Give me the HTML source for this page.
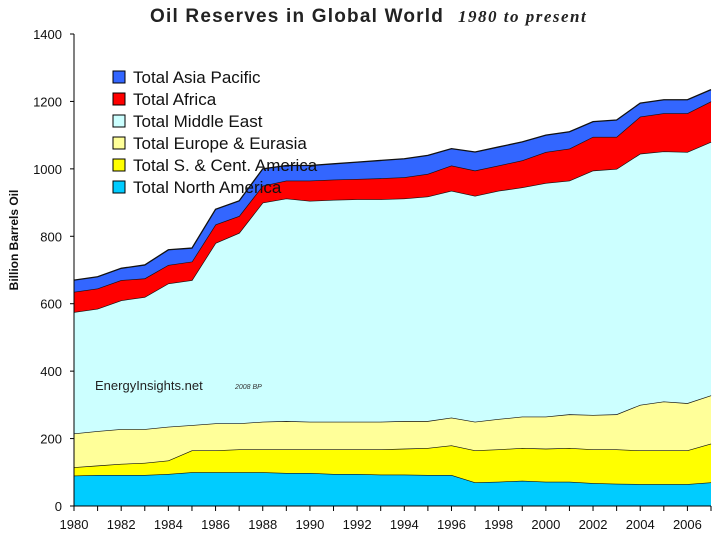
<!DOCTYPE html>
<html><head><meta charset="utf-8"><style>
body{margin:0;background:#fff;}
svg{display:block;font-family:"Liberation Sans",Arial,sans-serif;}
</style></head><body>
<svg id="chart" width="720" height="540" viewBox="0 0 720 540">
<text x="150" y="22" font-size="19" font-weight="bold" letter-spacing="1.2" fill="#222">Oil Reserves in Global World</text>
<text x="458" y="22" font-size="17" font-weight="bold" font-style="italic" letter-spacing="1.5" font-family="Liberation Serif,serif" fill="#222">1980 to present</text>
<text transform="translate(18,240) rotate(-90)" text-anchor="middle" font-size="12" font-weight="bold" fill="#111">Billion Barrels Oil</text>
<g id="plot"></g>
<g id="legend"></g>
<text x="95" y="390" font-size="13" fill="#222">EnergyInsights.net</text>
<text x="235" y="389" font-size="7" font-style="italic" fill="#333">2008 BP</text>
</svg>
<script>
const years=[1980,1981,1982,1983,1984,1985,1986,1987,1988,1989,1990,1991,1992,1993,1994,1995,1996,1997,1998,1999,2000,2001,2002,2003,2004,2005,2006,2007];
const northAmerica=[90,92,92,92,95,100,100,100,100,98,98,95,95,93,93,92,92,70,72,75,72,72,68,66,65,65,65,70];
const southCentAmerica=[25,28,33,36,40,65,65,68,68,70,70,73,73,75,77,80,88,95,96,97,98,100,100,102,100,100,100,115];
const europeEurasia=[100,102,103,100,100,75,80,77,82,84,82,82,82,82,82,80,82,85,90,93,95,100,102,104,135,145,140,143];
const middleEast=[360,363,382,392,425,430,535,565,650,660,655,658,660,660,660,666,673,670,677,680,693,693,725,728,745,742,745,752];
const africa=[60,60,60,55,55,55,55,50,50,53,60,60,60,62,63,67,75,75,75,80,92,95,100,95,110,113,115,120];
const asiaPacific=[35,35,35,40,45,40,45,45,50,45,45,47,50,53,55,55,50,55,55,55,50,50,45,50,40,40,40,35];
const seriesNames=["Total North America","Total S. & Cent. America","Total Europe & Eurasia","Total Middle East","Total Africa","Total Asia Pacific"];
const yTicks=[0,200,400,600,800,1000,1200,1400];
const xTickLabels=[1980,1982,1984,1986,1988,1990,1992,1994,1996,1998,2000,2002,2004,2006];

const NS="http://www.w3.org/2000/svg";
const X0=74,X1=711,Y0=506,Y1=34,YMAX=1400;
const xs=y=>X0+(y-years[0])/(years[years.length-1]-years[0])*(X1-X0);
const ys=v=>Y0-v/YMAX*(Y0-Y1);
const plot=document.getElementById('plot');
function mk(t,a){const e=document.createElementNS(NS,t);for(const k in a)e.setAttribute(k,a[k]);return e;}

const series=[northAmerica,southCentAmerica,europeEurasia,middleEast,africa,asiaPacific];
const colors=["#00ccff","#ffff00","#ffff99","#ccffff","#ff0000","#3366ff"];
const slugs=["north-america","s-cent-america","europe-eurasia","middle-east","africa","asia-pacific"];
let base=years.map(()=>0);
series.forEach((s,i)=>{
  const top=base.map((b,j)=>b+s[j]);
  let d='M'+years.map((y,j)=>xs(y)+','+ys(top[j])).join(' L');
  for(let j=years.length-1;j>=0;j--)d+=' L'+xs(years[j])+','+ys(base[j]);
  d+='Z';
  const p=mk('path',{d:d,fill:colors[i]});
  
  
  plot.appendChild(p);
  const l=mk('polyline',{points:years.map((y,j)=>xs(y)+','+ys(top[j])).join(' '),fill:'none',stroke:'#111','stroke-width':1.3});
  
  
  plot.appendChild(l);
  base=top;
});
const ax=mk('path',{d:`M${X0},${Y1} L${X0},${Y0} L${X1},${Y0}`,fill:'none',stroke:'#000','stroke-width':1});


plot.appendChild(ax);
yTicks.forEach(v=>{
  const t=mk('line',{x1:X0-4,x2:X0,y1:ys(v),y2:ys(v),stroke:'#000'});
  
  
  plot.appendChild(t);
  const tx=mk('text',{x:X0-12,y:ys(v)+5,'text-anchor':'end','font-size':13,fill:'#111'});
  tx.textContent=v;
  
  
  plot.appendChild(tx);
});
years.forEach(y=>{
  const t=mk('line',{x1:xs(y),x2:xs(y),y1:Y0,y2:Y0+5,stroke:'#000'});
  
  
  plot.appendChild(t);
});
xTickLabels.forEach(y=>{
  const tx=mk('text',{x:xs(y),y:Y0+23,'text-anchor':'middle','font-size':13,fill:'#111'});
  tx.textContent=y;
  
  
  plot.appendChild(tx);
});
const lg=document.getElementById('legend');
for(let k=0;k<6;k++){
  const i=5-k;const yy=77+k*22;
  const r=mk('rect',{x:113,y:yy-6,width:12,height:12,fill:colors[i],stroke:'#000','stroke-width':1});
  
  
  lg.appendChild(r);
  const t=mk('text',{x:133,y:yy+6,'font-size':17,fill:'#111'});
  t.textContent=seriesNames[i];
  
  
  lg.appendChild(t);
}
</script>
</body></html>
